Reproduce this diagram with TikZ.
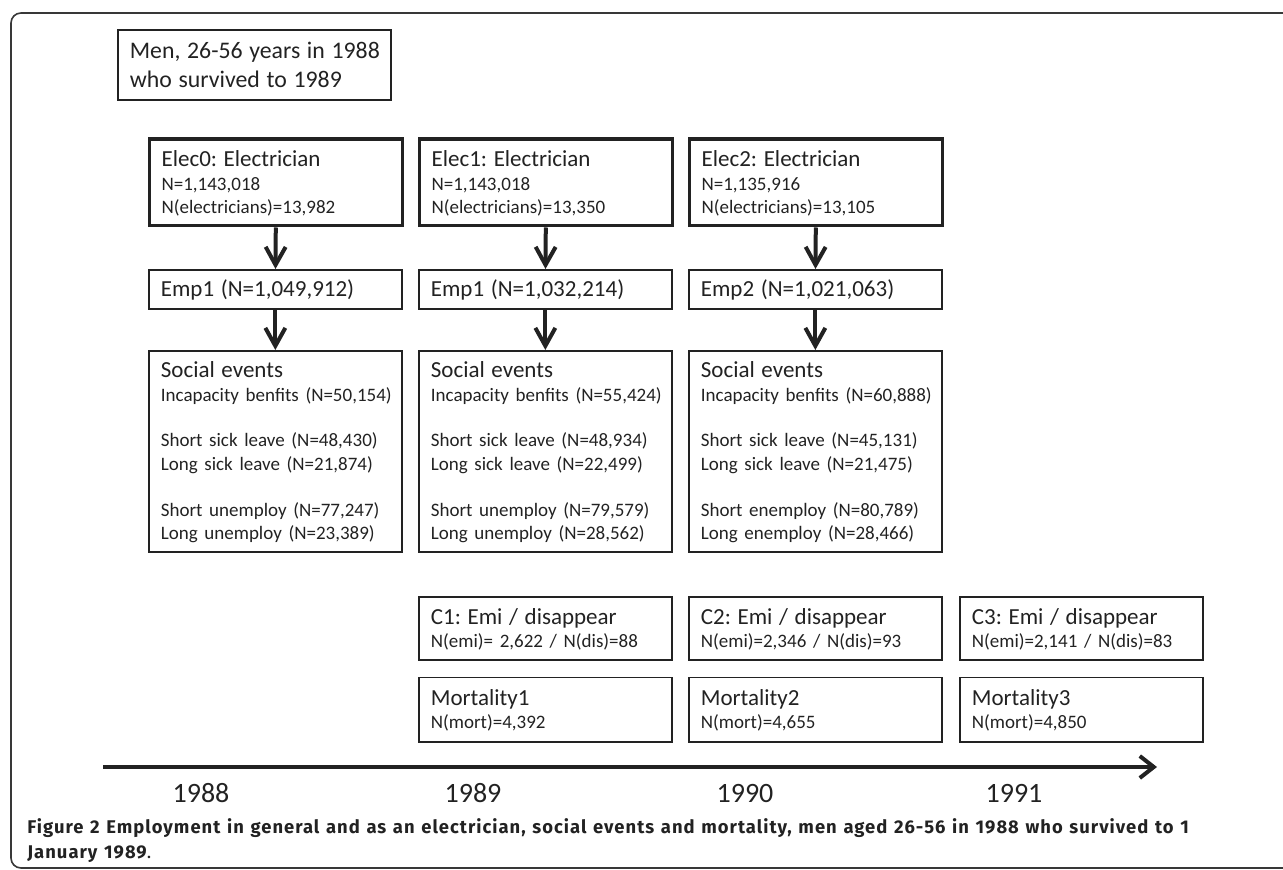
\documentclass[tikz,border=0pt]{standalone}
\usepackage{fontspec}
\setmainfont{Carlito}
\newfontfamily\capfont[LetterSpace=5.5]{Fira Sans}
\usetikzlibrary{arrows.meta}
\setlength\parskip{0pt}
\frenchspacing
\definecolor{ink}{HTML}{222222}
% one line of a box: size, distance from the line above, text
\newcommand\boxline[3]{{\fontsize{#1}{#2}\selectfont\mbox{#3}\par}}
\begin{document}
\begin{tikzpicture}[x=0.5pt,y=-0.5pt,
  box/.style={draw=ink,line width=0.85pt,anchor=north west,inner xsep=6pt,
    inner ysep=0pt,align=left,text=ink,text width=114.5pt},
  topbox/.style={box,text width=124.5pt,text height=14.5pt,text depth=20.5pt},
  elecbox/.style={box,line width=1.6pt,text height=13.75pt,text depth=29.65pt},
  empbox/.style={box,text height=13.5pt,text depth=6.25pt},
  socbox/.style={box,text height=13.5pt,text depth=87pt},
  censbox/.style={box,text height=14pt,text depth=17.5pt},
  mortbox/.style={box,text height=14.25pt,text depth=18pt},
  flow/.style={draw=ink,line width=2pt,-{Straight Barb[length=9pt,width=10pt]}},
  timeline/.style={draw=ink,line width=2pt,-{Straight Barb[length=7pt,width=11pt]}},
  year/.style={anchor=base,inner sep=0pt,text=ink,font=\fontsize{14}{17}\selectfont}]
\useasboundingbox (0,0) rectangle (1283,870);
% frame
\draw[ink!90,line width=0.8pt,rounded corners=5pt] (1300,13) -- (11,13) -- (11,868) -- (1300,868);
% cohort
\node[topbox] (cohort) at (117,29) {\boxline{11.9}{14.5}{Men, 26-56 years in 1988}\boxline{11.9}{14.5}{who survived to 1989}};
% column 1988
\node[elecbox] (elec0) at (148,137.5) {\boxline{11.5}{12}{Elec0: Electrician}\boxline{9.5}{12}{N=1,143,018}\boxline{9.5}{11.5}{N(electricians)=13,982}};
\node[empbox] (emp0) at (148,269) {\boxline{11.5}{12}{Emp1 (N=1,049,912)}};
\node[socbox] (soc0) at (148,350) {\boxline{11.5}{12}{Social events}\boxline{9.5}{12}{Incapacity benfits (N=50,154)}\boxline{9.5}{22.5}{Short sick leave (N=48,430)}\boxline{9.5}{12}{Long sick leave (N=21,874)}\boxline{9.5}{23}{Short unemploy (N=77,247)}\boxline{9.5}{11.5}{Long unemploy (N=23,389)}};
% column 1989
\node[elecbox] (elec1) at (418,137.5) {\boxline{11.5}{12}{Elec1: Electrician}\boxline{9.5}{12}{N=1,143,018}\boxline{9.5}{11.5}{N(electricians)=13,350}};
\node[empbox] (emp1) at (418,269) {\boxline{11.5}{12}{Emp1 (N=1,032,214)}};
\node[socbox] (soc1) at (418,350) {\boxline{11.5}{12}{Social events}\boxline{9.5}{12}{Incapacity benfits (N=55,424)}\boxline{9.5}{22.5}{Short sick leave (N=48,934)}\boxline{9.5}{12}{Long sick leave (N=22,499)}\boxline{9.5}{23}{Short unemploy (N=79,579)}\boxline{9.5}{11.5}{Long unemploy (N=28,562)}};
\node[censbox] (cens1) at (418,596) {\boxline{11.5}{12}{C1: Emi / disappear}\boxline{9.5}{11.5}{N(emi)= 2,622 / N(dis)=88}};
\node[mortbox] (mort1) at (418,676.5) {\boxline{11.5}{12}{Mortality1}\boxline{9.5}{11.5}{N(mort)=4,392}};
% column 1990
\node[elecbox] (elec2) at (688,137.5) {\boxline{11.5}{12}{Elec2: Electrician}\boxline{9.5}{12}{N=1,135,916}\boxline{9.5}{11.5}{N(electricians)=13,105}};
\node[empbox] (emp2) at (688,269) {\boxline{11.5}{12}{Emp2 (N=1,021,063)}};
\node[socbox] (soc2) at (688,350) {\boxline{11.5}{12}{Social events}\boxline{9.5}{12}{Incapacity benfits (N=60,888)}\boxline{9.5}{22.5}{Short sick leave (N=45,131)}\boxline{9.5}{12}{Long sick leave (N=21,475)}\boxline{9.5}{23}{Short enemploy (N=80,789)}\boxline{9.5}{11.5}{Long enemploy (N=28,466)}};
\node[censbox] (cens2) at (688,596) {\boxline{11.5}{12}{C2: Emi / disappear}\boxline{9.5}{11.5}{N(emi)=2,346 / N(dis)=93}};
\node[mortbox] (mort2) at (688,676.5) {\boxline{11.5}{12}{Mortality2}\boxline{9.5}{11.5}{N(mort)=4,655}};
% column 1991
\node[censbox,text width=109.5pt] (cens3) at (959,596) {\boxline{11.5}{12}{C3: Emi / disappear}\boxline{9.5}{11.5}{N(emi)=2,141 / N(dis)=83}};
\node[mortbox,text width=109.5pt] (mort3) at (959,676.5) {\boxline{11.5}{12}{Mortality3}\boxline{9.5}{11.5}{N(mort)=4,850}};
% arrows
\draw[flow] (elec0) -- (emp0);
\draw[flow] (emp0) -- (soc0);
\draw[flow] (elec1) -- (emp1);
\draw[flow] (emp1) -- (soc1);
\draw[flow] (elec2) -- (emp2);
\draw[flow] (emp2) -- (soc2);
% time axis
\coordinate (t0) at (103,767);
\coordinate (t1) at (1157,767);
\draw[timeline] (t0) -- (t1);
\node[year] (y1988) at (201,802) {1988};
\node[year] (y1989) at (473,802) {1989};
\node[year] (y1990) at (745,802) {1990};
\node[year] (y1991) at (1014,802) {1991};
% caption
\node[anchor=base west,inner sep=0pt,align=left,text=ink,text width=700pt,font=\capfont] (caption) at (27,833)
  {\boxline{9.2}{12.75}{\bfseries Figure 2 Employment in general and as an electrician, social events and mortality, men aged 26-56 in 1988 who survived to 1}\boxline{9.2}{12.75}{\bfseries January 1989\mdseries.}};
\end{tikzpicture}
\end{document}
